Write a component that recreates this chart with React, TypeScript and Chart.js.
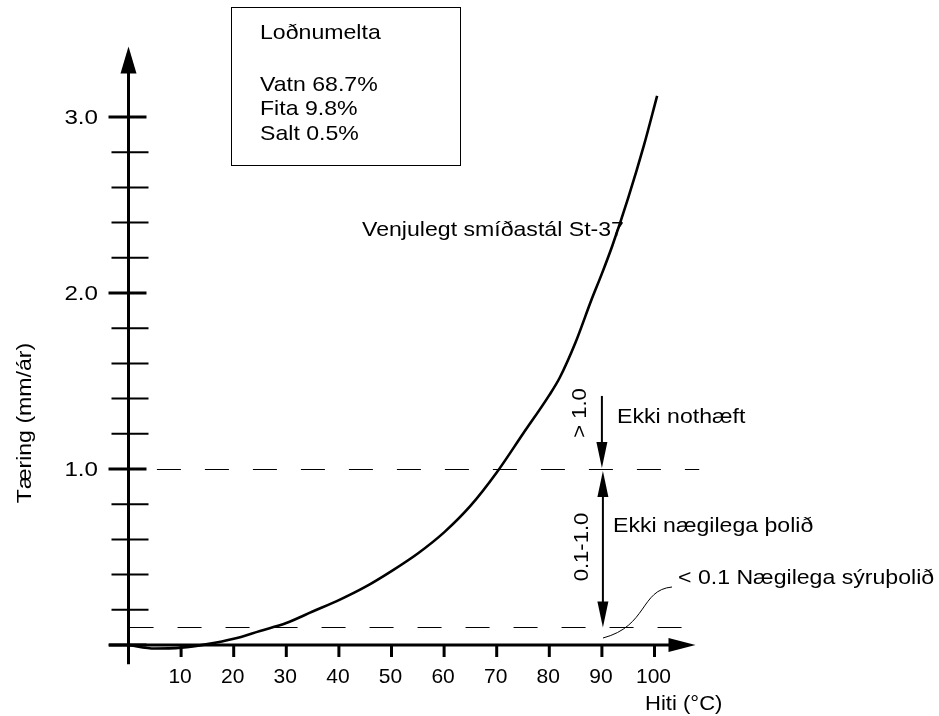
import React, { useEffect, useRef } from "react";
import { Chart, registerables } from "chart.js";

Chart.register(...registerables);

// ---- data ----
const temperature = [0, 5, 10, 15, 20, 25, 30, 35, 40, 45, 50, 55, 60, 65, 70, 75, 80, 82, 85, 88, 90, 92, 95, 98, 100.5];
const corrosion = [0, -0.02, -0.015, 0.005, 0.035, 0.08, 0.125, 0.19, 0.255, 0.33, 0.42, 0.52, 0.64, 0.79, 0.98, 1.2, 1.42, 1.52, 1.72, 1.96, 2.11, 2.27, 2.54, 2.84, 3.12];
const xTickValues = [10, 20, 30, 40, 50, 60, 70, 80, 90, 100];
const yMajorTicks = [0, 1, 2, 3];
const yMajorLabels = ["", "1.0", "2.0", "3.0"];
const yMinorTicks = [0.2, 0.4, 0.6, 0.8, 1.2, 1.4, 1.6, 1.8, 2.2, 2.4, 2.6, 2.8];
const thresholdValues = [0.1, 1.0];
const thresholdFrom = [0.2, 5.4];
const thresholdTo = [108.5, 108.5];
const infoTitle = "Loðnumelta";
const infoLines = ["Vatn 68.7%", "Fita 9.8%", "Salt 0.5%"];
const curveLabel = "Venjulegt smíðastál St-37";
const xTitle = "Hiti (°C)";
const yTitle = "Tæring (mm/ár)";
const zoneArrowX = 90;
const zoneTexts = ["Ekki nothæft", "Ekki nægilega þolið", "< 0.1 Nægilega sýruþolið"];
const zoneRangeTexts = ["> 1.0", "0.1-1.0"];

const FONT = '"Liberation Sans", Arial, Helvetica, sans-serif';

function arrowHead(ctx: CanvasRenderingContext2D, tipX: number, tipY: number, dir: "up" | "down" | "right", len: number, half: number) {
  ctx.beginPath();
  ctx.moveTo(tipX, tipY);
  if (dir === "up") {
    ctx.lineTo(tipX - half, tipY + len);
    ctx.lineTo(tipX + half, tipY + len);
  } else if (dir === "down") {
    ctx.lineTo(tipX - half, tipY - len);
    ctx.lineTo(tipX + half, tipY - len);
  } else {
    ctx.lineTo(tipX - len, tipY - half);
    ctx.lineTo(tipX - len, tipY + half);
  }
  ctx.closePath();
  ctx.fill();
}

function drawText(
  ctx: CanvasRenderingContext2D,
  t: string,
  x: number,
  y: number,
  opts: { size?: number; stretch?: number; align?: CanvasTextAlign; baseline?: CanvasTextBaseline; rotate?: number } = {}
) {
  const { size = 21, stretch = 1.1, align = "left", baseline = "alphabetic", rotate = 0 } = opts;
  ctx.save();
  ctx.translate(x, y);
  if (rotate) ctx.rotate(rotate);
  ctx.scale(stretch, 1);
  ctx.font = `${size}px ${FONT}`;
  ctx.textAlign = align;
  ctx.textBaseline = baseline;
  ctx.fillText(t, 0, 0);
  ctx.restore();
}

const overlay = {
  id: "overlay",
  afterDraw(chart: any) {
    const ctx: CanvasRenderingContext2D = chart.ctx;
    const xs = chart.scales.x;
    const ys = chart.scales.y;
    const px = (v: number) => xs.getPixelForValue(v);
    const py = (v: number) => ys.getPixelForValue(v);
    ctx.save();
    ctx.fillStyle = "#000";
    ctx.strokeStyle = "#000";

    // threshold dashed lines
    ctx.lineWidth = 1;
    ctx.setLineDash([24, 24]);
    thresholdValues.forEach((v, i) => {
      ctx.beginPath();
      ctx.moveTo(px(thresholdFrom[i]), Math.round(py(v)) + 0.5);
      ctx.lineTo(px(thresholdTo[i]), Math.round(py(v)) + 0.5);
      ctx.stroke();
    });
    ctx.setLineDash([]);

    const x0 = px(0);
    const y0 = py(0);

    // x axis
    ctx.lineWidth = 3;
    ctx.beginPath();
    ctx.moveTo(px(-3.7), y0);
    ctx.lineTo(px(104), y0);
    ctx.stroke();
    arrowHead(ctx, px(107.8), y0, "right", 27, 7);
    xTickValues.forEach((v) => {
      ctx.beginPath();
      ctx.moveTo(px(v), y0);
      ctx.lineTo(px(v), y0 + 12);
      ctx.stroke();
    });

    // y axis
    ctx.beginPath();
    ctx.moveTo(x0, py(-0.11));
    ctx.lineTo(x0, py(3.3));
    ctx.stroke();
    arrowHead(ctx, x0, py(3.4), "up", 27, 8);
    ctx.lineWidth = 3;
    yMajorTicks.forEach((v) => {
      ctx.beginPath();
      ctx.moveTo(x0 - 20, py(v));
      ctx.lineTo(x0 + 18, py(v));
      ctx.stroke();
    });
    ctx.lineWidth = 2;
    yMinorTicks.forEach((v) => {
      ctx.beginPath();
      ctx.moveTo(x0 - 17, py(v));
      ctx.lineTo(x0 + 20, py(v));
      ctx.stroke();
    });

    // tick labels
    xTickValues.forEach((v) => drawText(ctx, String(v), px(v) - 1, y0 + 38, { size: 21, stretch: 1.0, align: "center" }));
    yMajorTicks.forEach((v, i) => {
      if (yMajorLabels[i]) drawText(ctx, yMajorLabels[i], 98, py(v) + 1, { size: 21, stretch: 1.15, align: "right", baseline: "middle" });
    });

    // axis titles
    drawText(ctx, xTitle, 645, 710, { size: 21, stretch: 1.05 });
    drawText(ctx, yTitle, 31, 423, { size: 21, stretch: 1.1, align: "center", rotate: -Math.PI / 2 });

    // info box
    ctx.lineWidth = 1;
    ctx.strokeRect(231.5, 7.5, 229, 158);
    drawText(ctx, infoTitle, 260, 39);
    infoLines.forEach((t, i) => drawText(ctx, t, 260, 91 + i * 24.3));

    // curve label
    drawText(ctx, curveLabel, 362, 236);

    // zone arrows
    const ax = px(zoneArrowX);
    ctx.lineWidth = 2;
    ctx.beginPath();
    ctx.moveTo(ax, py(1.415));
    ctx.lineTo(ax, py(1.0) - 20);
    ctx.stroke();
    arrowHead(ctx, ax, py(1.0) - 1, "down", 26, 5.5);
    ctx.beginPath();
    ctx.moveTo(ax + 1, py(1.0) + 20);
    ctx.lineTo(ax + 1, py(0.1) - 20);
    ctx.stroke();
    arrowHead(ctx, ax + 1, py(1.0) + 2, "up", 26, 5.5);
    arrowHead(ctx, ax + 1, py(0.1), "down", 26, 5.5);

    // zone texts
    drawText(ctx, zoneTexts[0], 617, 423);
    drawText(ctx, zoneTexts[1], 613, 532);
    drawText(ctx, zoneTexts[2], 678, 584);
    drawText(ctx, zoneRangeTexts[0], 580, 413, { stretch: 1.05, align: "center", baseline: "middle", rotate: -Math.PI / 2 });
    drawText(ctx, zoneRangeTexts[1], 582, 547, { stretch: 1.05, align: "center", baseline: "middle", rotate: -Math.PI / 2 });

    // leader line
    ctx.lineWidth = 1;
    ctx.beginPath();
    ctx.moveTo(672, 587);
    ctx.bezierCurveTo(640, 590, 648, 626, 603, 638);
    ctx.stroke();

    ctx.restore();
  },
};

export default function App() {
  const ref = useRef<HTMLCanvasElement | null>(null);
  useEffect(() => {
    document.body.style.margin = "0";
    const canvas = ref.current;
    if (!canvas) return;
    const chart = new Chart(canvas, {
      type: "line",
      data: {
        datasets: [
          {
            data: temperature.map((t, i) => ({ x: t, y: corrosion[i] })),
            borderColor: "#000",
            borderWidth: 2.6,
            pointRadius: 0,
            cubicInterpolationMode: "monotone",
            fill: false,
          },
        ],
      },
      options: {
        animation: false,
        responsive: true,
        maintainAspectRatio: false,
        layout: { padding: { left: 107.46, right: 231.9, top: 37.8, bottom: 44.6 } },
        plugins: { legend: { display: false }, tooltip: { enabled: false } },
        scales: {
          x: { type: "linear", min: -4, max: 110, display: false },
          y: { type: "linear", min: -0.15, max: 3.45, display: false },
        },
      },
      plugins: [overlay],
    });
    return () => chart.destroy();
  }, []);
  return (
    <div style={{ width: 939, height: 716, position: "relative", background: "#fff" }}>
      <canvas ref={ref} />
    </div>
  );
}
